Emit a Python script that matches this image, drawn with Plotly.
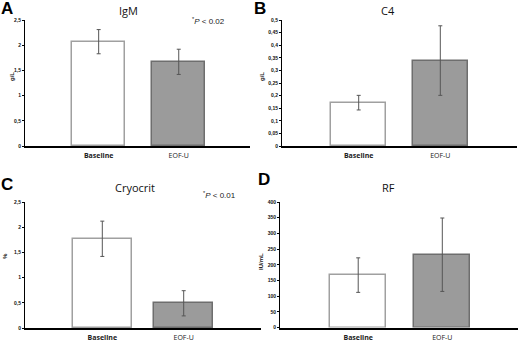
import plotly.graph_objects as go

W, H = 520, 340

categories = ["Baseline", "EOF-U"]
tick_labels = ["<b>Baseline</b>", "EOF-U"]

igm_values = [2.07, 1.67]
igm_err = [0.24, 0.25]
c4_values = [0.172, 0.339]
c4_err = [0.029, 0.138]
cryo_values = [1.77, 0.49]
cryo_err = [0.35, 0.25]
rf_values = [167, 232]
rf_err = [55, 117]

titles = ["IgM", "C4", "Cryocrit", "RF"]
letters = ["A", "B", "C", "D"]
units = ["g/L", "g/L", "%", "IU/mL"]

def px(x):
    return x / W

def py(y):
    return 1 - y / H

panels = [
    dict(x0=25, x1=250, yt=20, yb=146, xr=[-0.92, 1.89], bw=0.66, yr=[0, 2.5], dt=0.5,
         vals=igm_values, err=igm_err),
    dict(x0=282, x1=517, yt=20, yb=146, xr=[-0.94, 1.94], bw=0.67, yr=[0, 0.5], dt=0.05,
         vals=c4_values, err=c4_err),
    dict(x0=25, x1=261, yt=202, yb=328, xr=[-0.95, 1.95], bw=0.72, yr=[0, 2.5], dt=0.5,
         vals=cryo_values, err=cryo_err),
    dict(x0=280, x1=518, yt=202, yb=327.5, xr=[-0.93, 1.90], bw=0.67, yr=[0, 400], dt=50,
         vals=rf_values, err=rf_err),
]

fig = go.Figure()
layout = dict(
    width=W, height=H, template="none",
    margin=dict(l=0, r=0, t=0, b=0),
    paper_bgcolor="white", plot_bgcolor="white",
    showlegend=False, separators=", ",
    bargap=0,
)

for i, p in enumerate(panels):
    n = "" if i == 0 else str(i + 1)
    fig.add_trace(go.Bar(
        x=categories, y=p["vals"], width=p["bw"],
        marker=dict(color=["white", "#9b9b9b"],
                    line=dict(color=["#a0a0a0", "#6e6e6e"], width=1.5)),
        error_y=dict(type="data", array=p["err"], visible=True,
                     color="#555555", thickness=1, width=2),
        xaxis="x" + n, yaxis="y" + n,
    ))
    layout["xaxis" + n] = dict(
        domain=[px(p["x0"]), px(p["x1"])], anchor="y" + n,
        type="category", range=p["xr"], showgrid=False, zeroline=False,
        showline=True, linecolor="black", linewidth=1.5,
        ticks="", tickvals=categories, ticktext=tick_labels, ticklabelstandoff=2,
        tickfont=dict(family="Open Sans", size=7, color="#222"),
        automargin=False, fixedrange=True,
    )
    layout["yaxis" + n] = dict(
        domain=[py(p["yb"]), py(p["yt"])], anchor="x" + n,
        range=p["yr"], dtick=p["dt"], tick0=0, showgrid=False, zeroline=False,
        showline=True, linecolor="black", linewidth=1,
        ticks="outside", ticklen=2, tickwidth=1, tickcolor="black",
        tickfont=dict(family="Liberation Sans", size=5, color="#111", weight="bold"),
        automargin=False, fixedrange=True,
    )

annotations = []
for (tx, ty), t in zip([(128, 10), (388, 10), (135, 187), (388, 187)], titles):
    annotations.append(dict(x=px(tx), y=py(ty), xref="paper", yref="paper", text=t,
                            showarrow=False, xanchor="center", yanchor="middle",
                            font=dict(family="Open Sans", size=11, color="#111")))
for (lx, ly), l in zip([(7, 8), (260, 8), (7, 185), (264, 179)], letters):
    annotations.append(dict(x=px(lx), y=py(ly), xref="paper", yref="paper", text="<b>%s</b>" % l,
                            showarrow=False, xanchor="center", yanchor="middle",
                            font=dict(family="Liberation Sans", size=17, color="black")))
for (ux, uy), u in zip([(12, 77), (262, 77), (5, 256), (261, 262)], units):
    annotations.append(dict(x=px(ux), y=py(uy), xref="paper", yref="paper", text="<b>%s</b>" % u,
                            showarrow=False, xanchor="center", yanchor="middle", textangle=-90,
                            font=dict(family="Liberation Sans", size=6, color="#222")))
for (qx, qy), q in zip([(208, 21), (219, 195)], ["0.02", "0.01"]):
    annotations.append(dict(x=px(qx), y=py(qy), xref="paper", yref="paper",
                            text="<sup>*</sup><i>P</i> &lt; %s" % q,
                            showarrow=False, xanchor="center", yanchor="middle",
                            font=dict(family="Liberation Sans", size=8, color="#222")))
layout["annotations"] = annotations

fig.update_layout(**layout)
fig.write_html("out.html", config={"displayModeBar": False},
               post_script="document.body.style.margin='0';document.body.style.overflow='hidden';")
